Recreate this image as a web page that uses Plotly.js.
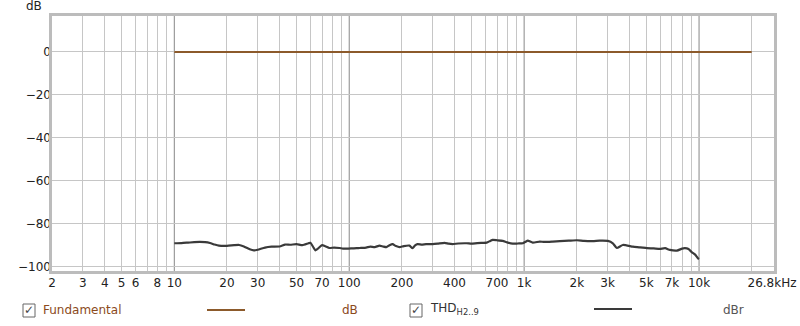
<!DOCTYPE html>
<html>
<head>
<meta charset="utf-8">
<script src="https://cdn.plot.ly/plotly-3.0.1.min.js"></script>
<style>html,body{margin:0;padding:0;background:#fff;}#chart{width:800px;height:326px;}</style>
</head>
<body>
<div id="chart"></div>
<script>
// ---- data ----
var fundFreq = [10, 20000];
var fundDb = [0, 0];

var thdFreq = [10, 11, 12, 13, 14, 15, 16, 17, 18, 20, 22, 23.5, 25, 27, 28.5, 30, 33, 36, 40, 43, 46, 50, 54, 58.5, 60, 62, 64, 66, 70, 73, 77, 82, 88, 92, 97,
  103, 110, 115, 125, 132, 140, 149, 156, 163, 170, 177, 185, 194, 205, 221, 230, 238, 246, 260, 275, 300, 320, 351, 370, 390, 420, 469, 500, 540, 580, 611, 640, 661, 700, 754, 800, 860, 920, 982,
  1020, 1049, 1120, 1228, 1300, 1457, 1600, 1800, 2000, 2200, 2470, 2700, 3010, 3215, 3388, 3667, 4185, 4600, 5030, 5500, 5975, 6400, 6810, 7475, 8000, 8300, 8700, 9100, 9500, 9860, 10000];
var thdDb = [-89.0, -88.9, -88.7, -88.5, -88.4, -88.5, -88.9, -89.6, -90.1, -90.2, -89.9, -89.8, -90.5, -91.8, -92.3, -92.0, -91.0, -90.6, -90.5, -89.6, -89.7, -89.4, -89.9, -89.0, -88.8, -90.5, -92.3, -91.6, -89.9, -90.4, -91.2, -91.0, -91.2, -91.5, -91.5,
  -91.4, -91.3, -91.2, -91.0, -90.6, -90.8, -90.1, -90.5, -90.8, -89.9, -89.4, -90.3, -90.8, -90.3, -90.1, -91.3, -90.0, -89.4, -89.6, -89.4, -89.4, -89.2, -88.8, -89.2, -89.4, -89.1, -89.0, -89.2, -88.9, -88.8, -88.7, -87.9, -87.4, -87.6, -87.9, -88.6, -89.2, -89.1, -89.0,
  -88.3, -87.8, -88.7, -88.2, -88.4, -88.2, -88.0, -87.8, -87.6, -87.9, -88.0, -87.8, -87.9, -89.0, -91.2, -89.8, -90.6, -90.9, -91.3, -91.4, -91.6, -91.3, -92.1, -92.4, -91.5, -91.3, -91.7, -93.2, -94.3, -96.0, -96.3];

var xTickVals = [2, 3, 4, 5, 6, 8, 10, 20, 30, 50, 70, 100, 200, 400, 700, 1000, 2000, 3000, 5000, 7000, 10000, 26800];
var xTickText = ['2', '3', '4', '5', '6', '8', '10', '20', '30', '50', '70', '100', '200', '400', '700', '1k', '2k', '3k', '5k', '7k', '10k', '26.8kHz\u00a0'];
var xGridVals = [2, 3, 4, 5, 6, 7, 8, 9, 20, 30, 40, 50, 60, 70, 80, 90, 200, 300, 400, 500, 600, 700, 800, 900,
  2000, 3000, 4000, 5000, 6000, 7000, 8000, 9000, 20000];
var xDecades = [10, 100, 1000, 10000];
var yTickVals = [0, -20, -40, -60, -80, -100];

// ---- layout helpers (pixel -> paper) ----
var L = 52, R = 774, T = 16, B = 271;
function px(x) { return (x - L) / (R - L); }
function py(y) { return (B - y) / (B - T); }

var brown = '#8c5a2b';
var brownText = '#8b4a1c';
var dark = '#3a3a3a';
var font = 'DejaVu Sans, Lucida Grande, sans-serif';

var traces = [
  { x: fundFreq, y: fundDb, type: 'scatter', mode: 'lines', line: { color: brown, width: 2 }, hoverinfo: 'skip', showlegend: false },
  { x: thdFreq, y: thdDb, type: 'scatter', mode: 'lines', line: { color: dark, width: 2.2, shape: 'spline', smoothing: 0.5 }, hoverinfo: 'skip', showlegend: false }
];

var shapes = [];
xDecades.forEach(function (d) {
  shapes.push({ type: 'line', xref: 'x', yref: 'paper', x0: d, x1: d, y0: 0, y1: 1, line: { color: '#888888', width: 1 }, layer: 'below' });
});
// frame
shapes.push({ type: 'rect', xref: 'paper', yref: 'paper', x0: px(50.5), x1: px(775.5), y0: py(272.5), y1: py(14.5), line: { color: '#bcbcbc', width: 3 } });
// legend checkboxes
function checkbox(x0, x1, y0, y1) {
  return { type: 'rect', xref: 'paper', yref: 'paper', x0: px(x0), x1: px(x1), y0: py(y1), y1: py(y0), line: { color: '#666', width: 1 }, fillcolor: '#fff' };
}
shapes.push(checkbox(23, 35, 304, 317));
shapes.push(checkbox(410, 422, 304, 317));
// legend line samples
shapes.push({ type: 'line', xref: 'paper', yref: 'paper', x0: px(207), x1: px(245), y0: py(310), y1: py(310), line: { color: brown, width: 2 } });
shapes.push({ type: 'line', xref: 'paper', yref: 'paper', x0: px(594), x1: px(632), y0: py(309), y1: py(309), line: { color: dark, width: 2 } });

function ann(text, x, y, xanchor, color, size) {
  return { text: text, xref: 'paper', yref: 'paper', x: px(x), y: py(y), xanchor: xanchor, yanchor: 'middle', showarrow: false,
    font: { family: font, size: size || 12, color: color || '#222' } };
}
var annotations = [
  ann('dB', 44, 6, 'right', '#222', 12),
  ann('\u2713', 29, 310, 'center', '#444', 12),
  ann('Fundamental', 41, 310, 'left', brownText, 12),
  ann('dB', 350, 310, 'center', brownText, 12),
  ann('\u2713', 416, 310, 'center', '#444', 12),
  ann('THD<sub>H2..9</sub>', 428, 309, 'left', '#333', 12),
  ann('dBr', 733, 310, 'center', '#555', 12)
];

var layout = {
  width: 800, height: 326,
  margin: { l: L, r: 800 - R, t: T, b: 326 - B, pad: 0 },
  paper_bgcolor: '#fff', plot_bgcolor: '#fff',
  showlegend: false,
  xaxis: {
    type: 'log', range: [Math.log10(1.999), Math.log10(26820)],
    tickmode: 'array', tickvals: xTickVals, ticktext: xTickText,
    showgrid: false, zeroline: false, showline: false,
    ticks: 'outside', ticklen: 1, tickcolor: 'rgba(0,0,0,0)',
    ticklabeloverflow: 'allow',
    tickfont: { family: font, size: 12, color: '#222' },
    minor: { tickmode: 'array', tickvals: xGridVals, showgrid: true, gridcolor: '#c6c6c6', gridwidth: 1, ticks: '' }
  },
  yaxis: {
    range: [-101.9, 16.7],
    tickmode: 'array', tickvals: yTickVals,
    showgrid: true, gridcolor: '#c6c6c6', gridwidth: 1,
    zeroline: false, showline: false, ticks: '',
    tickfont: { family: font, size: 12, color: '#222' }
  },
  shapes: shapes,
  annotations: annotations
};

Plotly.newPlot('chart', traces, layout, { staticPlot: true, displayModeBar: false });
</script>
</body>
</html>
